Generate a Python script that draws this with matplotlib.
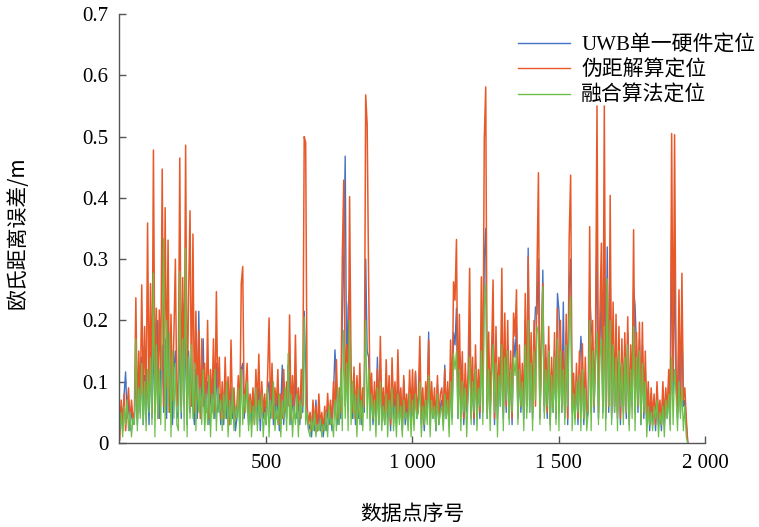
import numpy as np
import matplotlib
matplotlib.use('Agg')
import matplotlib.pyplot as plt

# Euclidean distance error (m), every 5th sample
uwb_err = [
    0.03, 0.06, 0.02, 0.08, 0.116, 0.04, 0.07, 0.02, 0.06, 0.03,
    0.04, 0.12, 0.03, 0.10, 0.05, 0.14, 0.03, 0.11, 0.04, 0.12,
    0.03, 0.15, 0.04, 0.18, 0.05, 0.12, 0.20, 0.04, 0.13, 0.16,
    0.05, 0.17, 0.04, 0.21, 0.06, 0.14, 0.03, 0.12, 0.15, 0.04,
    0.05, 0.19, 0.04, 0.228, 0.06, 0.20, 0.03, 0.15, 0.05, 0.14,
    0.06, 0.03, 0.12, 0.04, 0.215, 0.05, 0.10, 0.17, 0.03, 0.09,
    0.10, 0.03, 0.09, 0.05, 0.11, 0.04, 0.13, 0.05, 0.08, 0.03,
    0.07, 0.03, 0.103, 0.04, 0.08, 0.03, 0.09, 0.04, 0.07, 0.02,
    0.04, 0.08, 0.03, 0.12, 0.13, 0.04, 0.07, 0.09, 0.03, 0.06,
    0.03, 0.07, 0.04, 0.105, 0.03, 0.09, 0.02, 0.08, 0.04, 0.06,
    0.03, 0.08, 0.10, 0.04, 0.09, 0.03, 0.07, 0.04, 0.08, 0.02,
    0.06, 0.127, 0.03, 0.08, 0.04, 0.127, 0.10, 0.03, 0.08, 0.04,
    0.116, 0.04, 0.07, 0.03, 0.09, 0.05, 0.215, 0.12, 0.05, 0.02,
    0.03, 0.01, 0.05, 0.02, 0.07, 0.02, 0.05, 0.02, 0.04, 0.01,
    0.04, 0.02, 0.06, 0.03, 0.05, 0.02, 0.08, 0.152, 0.10, 0.03,
    0.06, 0.04, 0.20, 0.30, 0.468, 0.10, 0.222, 0.25, 0.08, 0.04,
    0.09, 0.03, 0.08, 0.04, 0.10, 0.03, 0.07, 0.05, 0.30, 0.15,
    0.14, 0.04, 0.09, 0.03, 0.08, 0.04, 0.14, 0.03, 0.12, 0.04,
    0.07, 0.03, 0.10, 0.04, 0.09, 0.02, 0.11, 0.04, 0.08, 0.03,
    0.11, 0.04, 0.07, 0.02, 0.103, 0.03, 0.06, 0.03, 0.09, 0.04,
    0.09, 0.03, 0.114, 0.04, 0.06, 0.12, 0.03, 0.07, 0.02, 0.08,
    0.05, 0.181, 0.03, 0.08, 0.04, 0.07, 0.02, 0.095, 0.03, 0.06,
    0.07, 0.03, 0.127, 0.04, 0.08, 0.03, 0.12, 0.04, 0.18, 0.16,
    0.22, 0.04, 0.15, 0.13, 0.10, 0.03, 0.09, 0.05, 0.08, 0.18,
    0.04, 0.11, 0.03, 0.13, 0.05, 0.10, 0.04, 0.19, 0.05, 0.30,
    0.35, 0.04, 0.14, 0.05, 0.12, 0.19, 0.03, 0.15, 0.04, 0.12,
    0.06, 0.20, 0.04, 0.17, 0.05, 0.16, 0.04, 0.13, 0.03, 0.17,
    0.14, 0.19, 0.04, 0.13, 0.05, 0.11, 0.04, 0.20, 0.05, 0.318,
    0.05, 0.15, 0.04, 0.17, 0.222, 0.21, 0.30, 0.04, 0.14, 0.282,
    0.05, 0.14, 0.04, 0.16, 0.03, 0.12, 0.05, 0.15, 0.04, 0.244,
    0.216, 0.16, 0.05, 0.23, 0.04, 0.18, 0.03, 0.25, 0.30, 0.05,
    0.09, 0.04, 0.11, 0.03, 0.12, 0.174, 0.13, 0.03, 0.11, 0.04,
    0.05, 0.25, 0.19, 0.17, 0.05, 0.15, 0.35, 0.04, 0.17, 0.24,
    0.05, 0.35, 0.04, 0.32, 0.05, 0.28, 0.04, 0.19, 0.05, 0.17,
    0.04, 0.16, 0.03, 0.15, 0.05, 0.16, 0.04, 0.18, 0.03, 0.14,
    0.06, 0.25, 0.225, 0.15, 0.05, 0.17, 0.03, 0.16, 0.04, 0.12,
    0.03, 0.087, 0.02, 0.08, 0.03, 0.07, 0.02, 0.09, 0.03, 0.06,
    0.02, 0.08, 0.03, 0.07, 0.04, 0.10, 0.03, 0.35, 0.08, 0.30,
    0.10, 0.04, 0.18, 0.05, 0.20, 0.06, 0.07, 0.03, 0.0,
]

pr_err = [
    0.005, 0.07, 0.03, 0.08, 0.02, 0.06, 0.09, 0.03, 0.07, 0.04,
    0.05, 0.237, 0.04, 0.15, 0.06, 0.258, 0.08, 0.19, 0.05, 0.359,
    0.07, 0.26, 0.05, 0.478, 0.09, 0.22, 0.04, 0.217, 0.12, 0.447,
    0.06, 0.384, 0.09, 0.331, 0.05, 0.21, 0.07, 0.18, 0.30, 0.06,
    0.10, 0.465, 0.06, 0.27, 0.08, 0.486, 0.05, 0.24, 0.379, 0.06,
    0.341, 0.05, 0.215, 0.07, 0.184, 0.04, 0.17, 0.06, 0.13, 0.05,
    0.20, 0.04, 0.12, 0.06, 0.17, 0.05, 0.247, 0.07, 0.14, 0.04,
    0.10, 0.04, 0.14, 0.06, 0.108, 0.03, 0.168, 0.05, 0.09, 0.04,
    0.06, 0.11, 0.04, 0.26, 0.288, 0.05, 0.09, 0.13, 0.04, 0.08,
    0.05, 0.09, 0.03, 0.12, 0.06, 0.145, 0.04, 0.10, 0.05, 0.08,
    0.04, 0.11, 0.204, 0.05, 0.13, 0.04, 0.09, 0.06, 0.12, 0.03,
    0.08, 0.04, 0.12, 0.05, 0.10, 0.06, 0.209, 0.04, 0.11, 0.05,
    0.176, 0.05, 0.09, 0.04, 0.12, 0.06, 0.50, 0.49, 0.06, 0.03,
    0.05, 0.02, 0.07, 0.03, 0.06, 0.02, 0.08, 0.03, 0.05, 0.02,
    0.06, 0.03, 0.081, 0.04, 0.07, 0.03, 0.10, 0.05, 0.136, 0.04,
    0.09, 0.05, 0.30, 0.429, 0.06, 0.16, 0.05, 0.402, 0.12, 0.05,
    0.124, 0.04, 0.11, 0.05, 0.13, 0.04, 0.09, 0.06, 0.568, 0.52,
    0.266, 0.06, 0.114, 0.04, 0.10, 0.05, 0.12, 0.04, 0.174, 0.05,
    0.09, 0.04, 0.136, 0.05, 0.11, 0.03, 0.139, 0.06, 0.10, 0.04,
    0.152, 0.05, 0.09, 0.03, 0.11, 0.05, 0.08, 0.04, 0.119, 0.05,
    0.12, 0.04, 0.117, 0.05, 0.08, 0.174, 0.04, 0.09, 0.03, 0.10,
    0.06, 0.168, 0.04, 0.10, 0.05, 0.09, 0.03, 0.11, 0.04, 0.08,
    0.09, 0.04, 0.12, 0.05, 0.10, 0.04, 0.168, 0.05, 0.263, 0.233,
    0.332, 0.06, 0.21, 0.05, 0.149, 0.04, 0.13, 0.06, 0.12, 0.285,
    0.05, 0.14, 0.04, 0.16, 0.06, 0.12, 0.05, 0.271, 0.06, 0.497,
    0.581, 0.05, 0.181, 0.06, 0.15, 0.266, 0.04, 0.19, 0.06, 0.14,
    0.08, 0.285, 0.05, 0.212, 0.06, 0.20, 0.05, 0.15, 0.04, 0.212,
    0.174, 0.25, 0.05, 0.16, 0.06, 0.13, 0.05, 0.244, 0.06, 0.304,
    0.07, 0.18, 0.05, 0.20, 0.06, 0.277, 0.441, 0.05, 0.17, 0.26,
    0.06, 0.16, 0.05, 0.19, 0.04, 0.14, 0.06, 0.18, 0.05, 0.22,
    0.05, 0.20, 0.06, 0.15, 0.05, 0.21, 0.04, 0.334, 0.437, 0.06,
    0.114, 0.05, 0.13, 0.04, 0.15, 0.05, 0.162, 0.04, 0.14, 0.05,
    0.06, 0.353, 0.05, 0.20, 0.06, 0.17, 0.55, 0.05, 0.21, 0.326,
    0.06, 0.55, 0.05, 0.26, 0.06, 0.404, 0.05, 0.23, 0.06, 0.21,
    0.05, 0.19, 0.04, 0.17, 0.06, 0.18, 0.05, 0.206, 0.04, 0.16,
    0.07, 0.348, 0.05, 0.18, 0.06, 0.197, 0.04, 0.197, 0.05, 0.15,
    0.04, 0.10, 0.03, 0.09, 0.04, 0.08, 0.03, 0.10, 0.04, 0.07,
    0.03, 0.10, 0.04, 0.09, 0.05, 0.12, 0.04, 0.505, 0.10, 0.503,
    0.12, 0.05, 0.25, 0.06, 0.277, 0.07, 0.09, 0.04, 0.0,
]

fusion_err = [
    0.02, 0.05, 0.01, 0.06, 0.03, 0.07, 0.02, 0.05, 0.01, 0.04,
    0.03, 0.17, 0.02, 0.09, 0.04, 0.13, 0.03, 0.10, 0.02, 0.12,
    0.05, 0.14, 0.03, 0.277, 0.01, 0.16, 0.04, 0.12, 0.03, 0.18,
    0.334, 0.02, 0.20, 0.05, 0.18, 0.01, 0.15, 0.04, 0.13, 0.03,
    0.02, 0.28, 0.05, 0.17, 0.02, 0.318, 0.01, 0.14, 0.04, 0.16,
    0.04, 0.13, 0.02, 0.11, 0.05, 0.09, 0.03, 0.12, 0.02, 0.08,
    0.03, 0.11, 0.01, 0.08, 0.04, 0.12, 0.02, 0.09, 0.05, 0.07,
    0.02, 0.08, 0.04, 0.10, 0.01, 0.07, 0.03, 0.09, 0.02, 0.06,
    0.04, 0.09, 0.01, 0.12, 0.03, 0.08, 0.05, 0.10, 0.02, 0.07,
    0.01, 0.06, 0.03, 0.09, 0.02, 0.07, 0.04, 0.08, 0.01, 0.05,
    0.03, 0.09, 0.01, 0.07, 0.04, 0.10, 0.02, 0.06, 0.03, 0.08,
    0.01, 0.07, 0.04, 0.09, 0.02, 0.146, 0.03, 0.08, 0.01, 0.06,
    0.03, 0.08, 0.01, 0.07, 0.04, 0.09, 0.206, 0.03, 0.05, 0.02,
    0.01, 0.04, 0.02, 0.05, 0.01, 0.03, 0.02, 0.04, 0.01, 0.03,
    0.02, 0.05, 0.01, 0.06, 0.03, 0.04, 0.01, 0.07, 0.02, 0.09,
    0.03, 0.12, 0.02, 0.184, 0.04, 0.13, 0.02, 0.20, 0.03, 0.10,
    0.04, 0.08, 0.01, 0.09, 0.03, 0.07, 0.02, 0.10, 0.20, 0.04,
    0.12, 0.02, 0.08, 0.04, 0.07, 0.01, 0.09, 0.03, 0.10, 0.02,
    0.06, 0.03, 0.08, 0.01, 0.07, 0.04, 0.09, 0.02, 0.06, 0.01,
    0.08, 0.03, 0.06, 0.01, 0.07, 0.04, 0.05, 0.02, 0.08, 0.01,
    0.07, 0.02, 0.08, 0.04, 0.05, 0.10, 0.01, 0.06, 0.03, 0.07,
    0.03, 0.11, 0.01, 0.07, 0.04, 0.06, 0.02, 0.08, 0.03, 0.05,
    0.06, 0.02, 0.08, 0.04, 0.07, 0.01, 0.10, 0.03, 0.146, 0.12,
    0.15, 0.04, 0.12, 0.02, 0.10, 0.05, 0.09, 0.01, 0.08, 0.14,
    0.03, 0.10, 0.05, 0.12, 0.02, 0.09, 0.06, 0.15, 0.03, 0.22,
    0.26, 0.04, 0.12, 0.02, 0.10, 0.16, 0.05, 0.13, 0.01, 0.11,
    0.06, 0.16, 0.02, 0.14, 0.07, 0.15, 0.03, 0.12, 0.05, 0.14,
    0.11, 0.15, 0.03, 0.12, 0.06, 0.10, 0.02, 0.16, 0.04, 0.20,
    0.05, 0.13, 0.02, 0.15, 0.07, 0.19, 0.18, 0.03, 0.12, 0.255,
    0.04, 0.12, 0.06, 0.15, 0.02, 0.11, 0.05, 0.14, 0.03, 0.17,
    0.02, 0.15, 0.05, 0.12, 0.03, 0.16, 0.06, 0.20, 0.238, 0.02,
    0.08, 0.03, 0.10, 0.05, 0.11, 0.02, 0.12, 0.04, 0.09, 0.02,
    0.05, 0.20, 0.02, 0.15, 0.06, 0.13, 0.18, 0.03, 0.14, 0.17,
    0.04, 0.19, 0.02, 0.268, 0.06, 0.20, 0.03, 0.16, 0.05, 0.14,
    0.02, 0.15, 0.06, 0.13, 0.03, 0.14, 0.05, 0.16, 0.02, 0.12,
    0.04, 0.19, 0.02, 0.14, 0.06, 0.15, 0.03, 0.13, 0.05, 0.10,
    0.01, 0.06, 0.03, 0.05, 0.02, 0.06, 0.04, 0.07, 0.01, 0.05,
    0.03, 0.06, 0.01, 0.07, 0.04, 0.08, 0.02, 0.14, 0.03, 0.12,
    0.08, 0.02, 0.10, 0.04, 0.09, 0.02, 0.06, 0.01, 0.0,
]

labels = ['UWB单一硬件定位', '伪距解算定位', '融合算法定位']
colors = ['#4472C4', '#E8592A', '#6CC04A']
widths = [1.0, 1.1, 0.9]

x_ticks = [500, 1000, 1500, 2000]
x_ticklabels = ['500', '1 000', '1 500', '2 000']
y_ticks = [0, 0.1, 0.2, 0.3, 0.4, 0.5, 0.6, 0.7]
y_ticklabels = ['0', '0.1', '0.2', '0.3', '0.4', '0.5', '0.6', '0.7']

serif = ['Liberation Serif', 'Noto Sans CJK SC']
cjk = ['Noto Sans CJK SC', 'Liberation Serif']

fig = plt.figure(figsize=(7.59, 5.27), dpi=100)
ax = fig.add_axes([0.1574, 0.1594, 0.7715, 0.814])

for errs, lab, col, w in zip([uwb_err, pr_err, fusion_err], labels, colors, widths):
    idx = np.arange(len(errs)) * 5 + 1
    ax.plot(idx, errs, color=col, lw=w, label=lab)

ax.set_xlim(0, 2000)
ax.set_ylim(0, 0.7)
ax.set_xticks(x_ticks)
ax.set_xticklabels(x_ticklabels, family=serif, fontsize=15)
ax.set_yticks(y_ticks)
ax.set_yticklabels(y_ticklabels, family=serif, fontsize=15)
ax.tick_params(direction='in', length=5, width=1, color='#555555', pad=8)
ax.spines['top'].set_visible(False)
ax.spines['right'].set_visible(False)
for s in ['left', 'bottom']:
    ax.spines[s].set_color('#555555')
    ax.spines[s].set_linewidth(1)

ax.set_xlabel('数据点序号', family=cjk, fontsize=15)
ax.xaxis.set_label_coords(0.4996, -0.14)
ax.set_ylabel('欧氏距离误差/m', family=cjk, fontsize=15)
ax.yaxis.set_label_coords(-0.156, 0.49)

leg = ax.legend(loc='upper right', bbox_to_anchor=(1.10, 0.97), frameon=False,
                prop={'family': serif, 'size': 15}, handlelength=2.5,
                handletextpad=0.55, labelspacing=0.25, borderaxespad=0)
for line in leg.get_lines():
    line.set_linewidth(1.0)

fig.savefig('out.png', dpi=100)
